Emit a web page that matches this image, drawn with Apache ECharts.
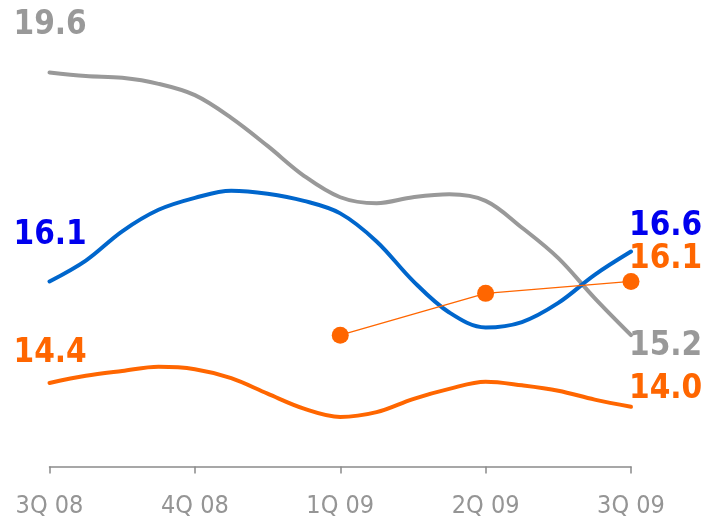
<!DOCTYPE html>
<html>
<head>
<meta charset="utf-8">
<script src="https://cdn.jsdelivr.net/npm/echarts@6/dist/echarts.min.js"></script>
<style>
  html, body { margin: 0; padding: 0; background: #ffffff; }
  #chart { width: 709px; height: 521px; }
</style>
</head>
<body>
<div id="chart"></div>
<script>
// Quarter tick labels along the bottom axis
const quarters = ['3Q 08', '4Q 08', '1Q 09', '2Q 09', '3Q 09'];

// Sample positions (in quarters from 3Q 08) for the continuous lines
const period = [0, 0.25, 0.5, 0.75, 1, 1.25, 1.5, 1.75, 2, 2.25, 2.5, 2.75, 3, 3.25, 3.5, 3.75, 4];

// Continuous series values
const greyValues   = [19.6, 19.54, 19.51, 19.41, 19.22, 18.84, 18.37, 17.87, 17.51, 17.41, 17.51, 17.56, 17.45, 17.0, 16.49, 15.82, 15.2];
const blueValues   = [16.1, 16.45, 16.94, 17.3, 17.5, 17.62, 17.57, 17.45, 17.24, 16.77, 16.11, 15.58, 15.33, 15.42, 15.74, 16.21, 16.6];
const orangeValues = [14.4, 14.52, 14.6, 14.67, 14.63, 14.48, 14.22, 13.97, 13.83, 13.91, 14.13, 14.3, 14.42, 14.36, 14.27, 14.12, 14.0];

// Quarterly dot series
const dotPeriod = [2, 3, 4];
const dotValues = [15.2, 15.9, 16.1];

const GREY = '#999999';
const BLUE_LINE = '#0066cc';
const BLUE_TEXT = '#0000ee';
const ORANGE = '#ff6600';

const pairs = (xs, ys) => xs.map((x, i) => [x, ys[i]]);
const first = (xs, ys) => [xs[0], ys[0]];
const last = (xs, ys) => [xs[xs.length - 1], ys[ys.length - 1]];

const valueFont = {
  fontFamily: 'DejaVu Sans Condensed',
  fontWeight: 'bold',
  fontSize: 33
};

// Invisible anchor series that carries a value label at one point
function valueLabel(point, color, dx, dy) {
  return {
    type: 'scatter',
    data: [point],
    symbolSize: 0,
    silent: true,
    z: 10,
    itemStyle: { opacity: 1, color: color },
    label: Object.assign({
      show: true,
      position: [dx, dy],
      align: 'left',
      verticalAlign: 'middle',
      color: color,
      opacity: 1,
      formatter: p => p.value[1].toFixed(1)
    }, valueFont)
  };
}

const chart = echarts.init(document.getElementById('chart'), null, { renderer: 'canvas' });

chart.setOption({
  animation: false,
  backgroundColor: '#ffffff',
  grid: { left: 49.5, right: 78, top: 48.6, bottom: 54.5 },
  xAxis: {
    type: 'value',
    min: 0,
    max: 4,
    interval: 1,
    splitLine: { show: false },
    axisLine: { show: true, lineStyle: { color: '#8a8a8a', width: 1.5 } },
    axisTick: { show: true, length: 7, lineStyle: { color: '#8a8a8a', width: 1.5 } },
    axisLabel: {
      margin: 27,
      color: '#959595',
      fontFamily: 'DejaVu Sans Condensed',
      fontSize: 25,
      formatter: v => quarters[Math.round(v)] || ''
    }
  },
  yAxis: {
    type: 'value',
    min: 13,
    max: 20,
    show: false
  },
  series: [
    {
      type: 'line',
      data: pairs(period, greyValues),
      smooth: 0.35,
      showSymbol: false,
      lineStyle: { color: GREY, width: 4, cap: 'round' },
      z: 2
    },
    {
      type: 'line',
      data: pairs(period, blueValues),
      smooth: 0.35,
      showSymbol: false,
      lineStyle: { color: BLUE_LINE, width: 4, cap: 'round' },
      z: 3
    },
    {
      type: 'line',
      data: pairs(period, orangeValues),
      smooth: 0.35,
      showSymbol: false,
      lineStyle: { color: ORANGE, width: 4, cap: 'round' },
      z: 3
    },
    {
      type: 'line',
      data: pairs(dotPeriod, dotValues),
      symbol: 'circle',
      symbolSize: 17,
      itemStyle: { color: ORANGE },
      lineStyle: { color: ORANGE, width: 1.3 },
      z: 4
    },
    valueLabel(first(period, greyValues), GREY, -36, -47),
    valueLabel(first(period, blueValues), BLUE_TEXT, -36, -46),
    valueLabel(first(period, orangeValues), ORANGE, -36, -29),
    valueLabel(last(period, blueValues), BLUE_TEXT, -2, -25.5),
    valueLabel(last(dotPeriod, dotValues), ORANGE, -2, -22.5),
    valueLabel(last(period, greyValues), GREY, -2, 11.5),
    valueLabel(last(period, orangeValues), ORANGE, -2, -17)
  ]
});
</script>
</body>
</html>
